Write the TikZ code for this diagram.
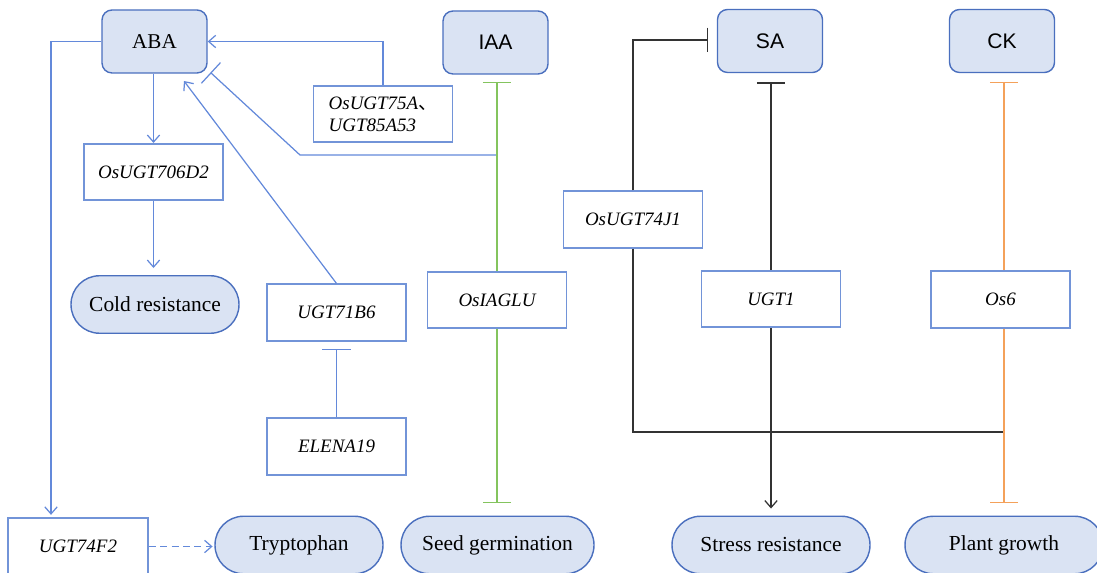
\documentclass[tikz,border=0pt]{standalone}
\usepackage{fontspec}
\setmainfont{Liberation Serif}
\setsansfont{Liberation Sans}
\newfontfamily\cjk{Noto Sans CJK SC}
\usetikzlibrary{arrows.meta}
\definecolor{fillb}{HTML}{DAE3F3}
\definecolor{nodeb}{HTML}{4A6FBE}
\definecolor{rectb}{HTML}{7294D8}
\definecolor{lineb}{HTML}{6389DA}
\definecolor{lgreen}{HTML}{84C45E}
\definecolor{lorange}{HTML}{F4A15A}
\definecolor{dline}{HTML}{333333}
\begin{document}
\begin{tikzpicture}[x=0.02cm,y=-0.02cm,
  hormone/.style={draw=nodeb, fill=fillb, rounded corners=0.2cm, minimum width=2.1cm, minimum height=1.26cm, inner sep=0pt, line width=0.8pt, font=\sffamily\fontsize{12}{14}\selectfont},
  gene/.style={draw=rectb, fill=white, minimum width=2.78cm, minimum height=1.13cm, inner sep=0pt, line width=0.9pt, font=\itshape\fontsize{10.8}{12.5}\selectfont},
  pheno/.style={draw=nodeb, fill=fillb, rounded corners=0.57cm, minimum height=1.15cm, inner sep=0pt, line width=0.8pt, font=\fontsize{12.2}{14}\selectfont},
  bline/.style={draw=lineb, line width=0.7pt},
  barrow/.style={bline, -{Straight Barb[length=4pt,width=7pt]}},
]
\useasboundingbox (0,0) rectangle (1097,573);

% hormones
\node[hormone, font=\fontsize{12}{14}\selectfont] (aba) at (154.5,41.5) {ABA};
\node[hormone] (iaa) at (495.5,42.5) {IAA};
\node[hormone] (sa) at (770,41) {SA};
\node[hormone] (ck) at (1002,41) {CK};

% genes
\node[gene, align=left] (u75) at (383,114) {OsUGT75A{\cjk\upshape 、}\\UGT85A53};
\node[gene] (u706) at (153.5,172) {OsUGT706D2};
\node[gene] (u71) at (336.5,312.5) {UGT71B6};
\node[gene] (elena) at (336.5,446.5) {ELENA19};
\node[gene] (iaglu) at (497,300) {OsIAGLU};
\node[gene] (j74) at (633,219.5) {OsUGT74J1};
\node[gene] (ugt1) at (771,299) {UGT1};
\node[gene] (os6) at (1000.5,299.5) {Os6};
\node[gene, minimum width=2.8cm] (f2) at (78,546.5) {UGT74F2};

% phenotypes
\node[pheno] (cold) at (155,304.5) [minimum width=3.36cm] {Cold resistance};
\node[pheno] (tryp) at (299,545) [minimum width=3.36cm] {Tryptophan};
\node[pheno] (seed) at (497.5,545) [minimum width=3.86cm] {Seed germination};
\node[pheno] (stress) at (771,545) [minimum width=3.96cm] {Stress resistance};
\node[pheno] (plant) at (1004,545) [minimum width=3.96cm] {Plant growth};

% helper coordinates
\coordinate (leftx) at (51,0);
\coordinate (j1) at (497,155);
\coordinate (k1) at (300,155);
\coordinate (abaT) at (210.5,72.5);
\coordinate (abaA) at (184,81);
\coordinate (u71T) at (336.5,349);
\coordinate (iaaT) at (497,82);
\coordinate (seedT) at (497,503);
\coordinate (saT) at (771,82);
\coordinate (saL) at (708,40);
\coordinate (j2) at (1004,432);
\coordinate (ckT) at (1004,82);
\coordinate (plantT) at (1004,503);

% ABA connectors
\draw[barrow, shorten >=1.5pt] (aba.west) -| (f2.north -| leftx);
\draw[barrow] (u75.north) |- (aba.east);
\draw[bline, -{Bar[width=16pt]}] (j1) -- (k1) -- (abaT);
\draw[barrow] (u71.north) -- (abaA);
\draw[barrow] (aba.south -| u706.north) -- (u706.north);
\draw[barrow, shorten >=4pt] (u706.south) -- (cold.north -| u706.south);
\draw[bline, -{Bar[width=16pt]}] (elena.north) -- (u71T);
\draw[bline, dashed, dash pattern=on 4pt off 2.5pt, -{Straight Barb[length=4pt,width=7pt]}, shorten >=1pt] (f2.east) -- (tryp.west |- f2.east);

% IAA
\draw[draw=lgreen, line width=0.8pt, {Bar[width=16pt]}-] (iaaT) -- (iaglu.north -| iaaT);
\draw[draw=lgreen, line width=0.8pt, -{Bar[width=16pt]}] (iaglu.south -| iaaT) -- (seedT);

% SA
\draw[draw=dline, line width=1.1pt, {Bar[width=16pt]}-] (saT) -- (ugt1.north -| saT);
\draw[draw=dline, line width=0.7pt, -{Straight Barb[length=4pt,width=7pt]}, shorten >=4pt] (ugt1.south -| saT) -- (stress.north -| saT);
\draw[draw=dline, line width=0.7pt, -{Bar[width=14pt]}] (j74.north) |- (saL);
\draw[draw=dline, line width=0.8pt] (j74.south) |- (j2);

% CK
\draw[draw=lorange, line width=0.8pt, {Bar[width=16pt]}-] (ckT) -- (os6.north -| ckT);
\draw[draw=lorange, line width=0.8pt, -{Bar[width=16pt]}] (os6.south -| ckT) -- (plantT);
\end{tikzpicture}
\end{document}
